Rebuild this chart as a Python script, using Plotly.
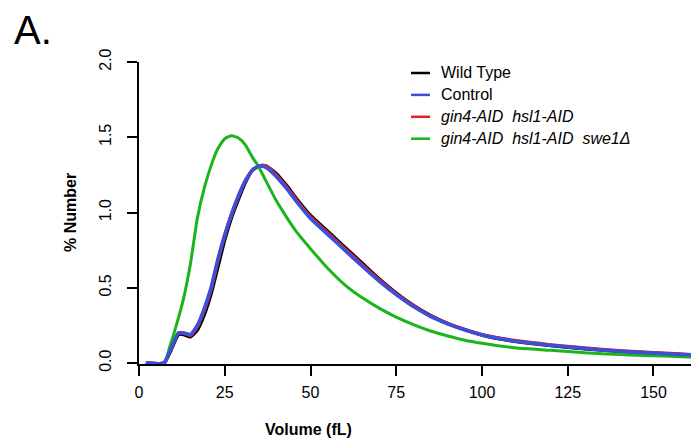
import plotly.graph_objects as go

# volume grid (fL)
volume = [2, 7.3, 9, 11.5, 13, 15, 17, 19, 21, 23, 25, 27, 29, 31, 33, 35, 37,
          40, 43, 46, 50, 55, 60, 65, 70, 75, 80, 85, 90, 95, 100, 110, 120,
          130, 140, 150, 160, 164, 165.5]

wild_type = [0, 0, 0.07, 0.19, 0.19, 0.175, 0.22, 0.32, 0.46, 0.64, 0.82, 0.97,
             1.09, 1.20, 1.28, 1.31, 1.31, 1.26, 1.18, 1.09, 0.98, 0.875, 0.77,
             0.665, 0.56, 0.465, 0.383, 0.316, 0.263, 0.222, 0.187, 0.143,
             0.116, 0.096, 0.079, 0.066, 0.054, 0.049, 0.034]

control = [0, 0, 0.08, 0.20, 0.20, 0.19, 0.25, 0.36, 0.50, 0.69, 0.85, 0.99,
           1.11, 1.21, 1.28, 1.31, 1.30, 1.24, 1.16, 1.07, 0.96, 0.855, 0.75,
           0.645, 0.545, 0.455, 0.375, 0.31, 0.26, 0.22, 0.187, 0.145, 0.118,
           0.097, 0.079, 0.067, 0.055, 0.05, 0.035]

gin4_hsl1 = [0, 0, 0.08, 0.20, 0.20, 0.185, 0.24, 0.35, 0.49, 0.68, 0.85, 0.99,
             1.11, 1.21, 1.28, 1.31, 1.31, 1.25, 1.17, 1.08, 0.97, 0.865, 0.76,
             0.655, 0.553, 0.46, 0.38, 0.313, 0.262, 0.222, 0.189, 0.148,
             0.121, 0.1, 0.082, 0.069, 0.057, 0.052, 0.036]

gin4_hsl1_swe1 = [0, 0, 0.11, 0.30, 0.43, 0.66, 0.96, 1.16, 1.31, 1.425, 1.49,
                  1.51, 1.495, 1.45, 1.37, 1.30, 1.21, 1.08, 0.97, 0.87, 0.76,
                  0.63, 0.52, 0.435, 0.365, 0.305, 0.255, 0.213, 0.18, 0.152,
                  0.132, 0.10, 0.085, 0.068, 0.057, 0.049, 0.041, 0.037, 0.028]

names = ["Wild Type", "Control", "<i>gin4-AID  hsl1-AID</i>",
         "<i>gin4-AID  hsl1-AID  swe1\u0394</i>"]
colors = ["#000000", "#3a4fdc", "#e3202a", "#1bb41b"]
series = [wild_type, control, gin4_hsl1, gin4_hsl1_swe1]

x_ticks = [0, 25, 50, 75, 100, 125, 150]
y_ticks = [0.0, 0.5, 1.0, 1.5, 2.0]

W, H = 699, 442
L, R, T, B = 131, 0, 54, 86
font = "Liberation Sans, Arial, Helvetica, sans-serif"


def px(x):
    return (x - L) / (W - L - R)


def py(y):
    return 1 - (y - T) / (H - T - B)


fig = go.Figure()

# black, red, green, blue drawing order
for i in [0, 2, 3, 1]:
    fig.add_trace(go.Scatter(
        x=volume, y=series[i], mode="lines", name=names[i],
        line=dict(color=colors[i], width=3.5 if i != 3 else 3,
                  shape="spline", smoothing=0.5),
        showlegend=False,
    ))

# legend drawn by hand (short R-style keys)
for i, name in enumerate(names):
    yy = 65 + i * 21.9
    fig.add_shape(type="line", xref="paper", yref="paper",
                  x0=px(403), x1=px(422), y0=py(yy), y1=py(yy),
                  line=dict(color=colors[i], width=2.5))
    fig.add_annotation(xref="paper", yref="paper", x=px(431), y=py(yy),
                       text=name, showarrow=False, xanchor="left",
                       yanchor="middle", font=dict(size=16, color="black"))

fig.add_annotation(xref="paper", yref="paper", x=px(4), y=py(-2),
                   text="A.", showarrow=False, xanchor="left", yanchor="top",
                   font=dict(size=40, color="black"))

fig.add_annotation(xref="paper", yref="paper", x=px(300), y=py(421),
                   text="<b>Volume (fL)</b>", showarrow=False,
                   xanchor="center", yanchor="middle",
                   font=dict(size=16, color="black"))

fig.add_annotation(xref="paper", yref="paper", x=px(62), y=py(205),
                   text="<b>% Number</b>", showarrow=False, textangle=-90,
                   xanchor="center", yanchor="middle",
                   font=dict(size=16, color="black"))

fig.update_xaxes(
    range=[0, 165.6], tickvals=x_ticks, ticks="outside", ticklen=10,
    tickwidth=2, tickcolor="black", showline=True, linewidth=2,
    linecolor="black", showgrid=False, zeroline=False,
    tickfont=dict(size=16, color="black"), ticklabelstandoff=3,
)
fig.update_yaxes(
    range=[-0.006, 2.0], tickvals=y_ticks, tickformat=".1f", ticks="outside",
    ticklen=10, tickwidth=2, tickcolor="black", showline=True, linewidth=2,
    linecolor="black", showgrid=False, zeroline=False, tickangle=-90,
    tickfont=dict(size=16, color="black"), ticklabelstandoff=10,
)

fig.update_layout(
    width=W, height=H,
    margin=dict(l=L, r=R, t=T, b=B),
    paper_bgcolor="white", plot_bgcolor="white",
    font=dict(family=font, color="black"),
)

fig.write_html("out.html")
